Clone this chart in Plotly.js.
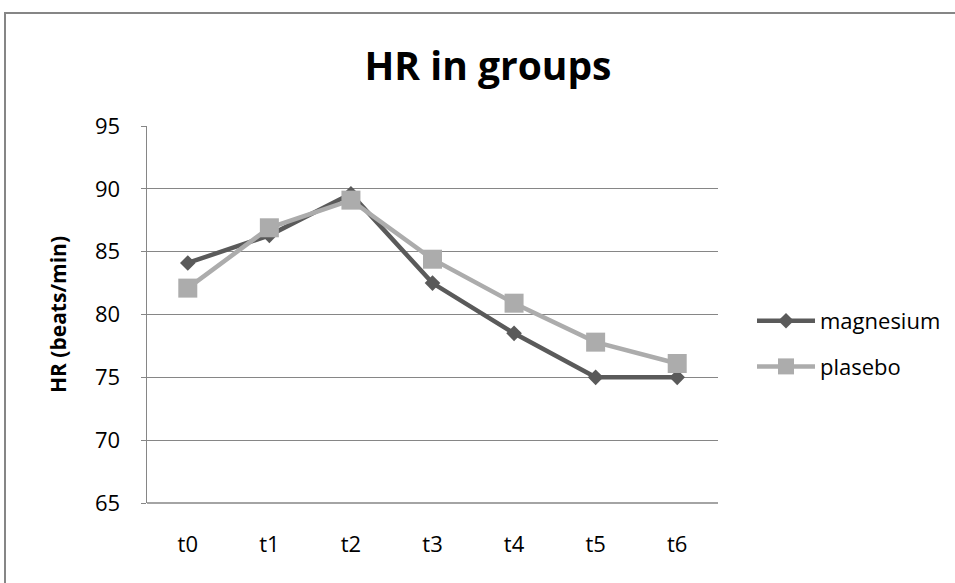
<!DOCTYPE html>
<html>
<head>
<meta charset="utf-8">
<script src="https://cdn.plot.ly/plotly-3.0.1.min.js"></script>
<style>html,body{margin:0;padding:0;background:#fff;}#chart{width:955px;height:583px;}</style>
</head>
<body>
<div id="chart"></div>
<script>
var categories = ["t0", "t1", "t2", "t3", "t4", "t5", "t6"];
var magnesium = [84.1, 86.3, 89.6, 82.5, 78.5, 75.0, 75.0];
var plasebo = [82.1, 86.9, 89.1, 84.4, 80.9, 77.8, 76.1];
var yTicks = [65, 70, 75, 80, 85, 90, 95];

var L = 147, R = 718, T = 126, B = 503;
function px(x) { return (x - L) / (R - L); }
function py(y) { return (B - y) / (B - T); }

var traces = [
  {
    x: categories, y: magnesium, name: "magnesium", type: "scatter", mode: "lines+markers",
    legendgroup: "a",
    line: {color: "#5a5a5a", width: 4.5},
    marker: {symbol: "diamond", size: 12, color: "#5a5a5a"}
  },
  {
    x: categories, y: plasebo, name: "plasebo", type: "scatter", mode: "lines+markers",
    legendgroup: "b",
    line: {color: "#acacac", width: 4.5},
    marker: {symbol: "square", size: 19, color: "#acacac"}
  }
];

var layout = {
  width: 955, height: 583,
  margin: {l: L, r: 955 - R, t: T, b: 583 - B, pad: 0, autoexpand: false},
  paper_bgcolor: "#fff", plot_bgcolor: "#fff",
  font: {family: "Open Sans, sans-serif", color: "#000"},
  title: {text: "HR in groups", font: {family: "Open Sans", size: 39, color: "#000", weight: "bold"},
          x: 488 / 955, xanchor: "center", y: 1 - 66 / 583, yanchor: "middle"},
  xaxis: {
    type: "category", showgrid: false, zeroline: false, showline: false,
    ticks: "", tickfont: {size: 22, color: "#000"}, ticklabelstandoff: 26,
    range: [-0.5, 6.5], fixedrange: true
  },
  yaxis: {
    range: [65, 95], tickvals: yTicks, ticktext: yTicks.map(String),
    showgrid: true, gridcolor: "#868686", gridwidth: 1, zeroline: false,
    showline: true, linecolor: "#868686", linewidth: 1.5,
    ticks: "outside", ticklen: 5, tickcolor: "#868686",
    tickfont: {size: 22, color: "#000"}, ticklabelstandoff: 16,
    title: {text: "HR (beats/min)", font: {size: 21, color: "#000", weight: "bold"}, standoff: 22},
    fixedrange: true
  },
  legend: {
    x: px(752), xanchor: "left", y: py(344), yanchor: "middle",
    font: {size: 22, color: "#000"}, tracegroupgap: 14, itemwidth: 58,
    bgcolor: "rgba(0,0,0,0)"
  },
  shapes: [
    {type: "line", xref: "paper", yref: "paper", x0: 0, x1: 1, y0: 0, y1: 0,
     line: {color: "#868686", width: 1.5}},
    {type: "rect", xref: "paper", yref: "paper", x0: px(5), x1: px(962), y0: py(590), y1: py(13),
     line: {color: "#868686", width: 2}, layer: "below"}
  ],
  showlegend: true
};

Plotly.newPlot("chart", traces, layout, {displayModeBar: false, staticPlot: true});
</script>
</body>
</html>
